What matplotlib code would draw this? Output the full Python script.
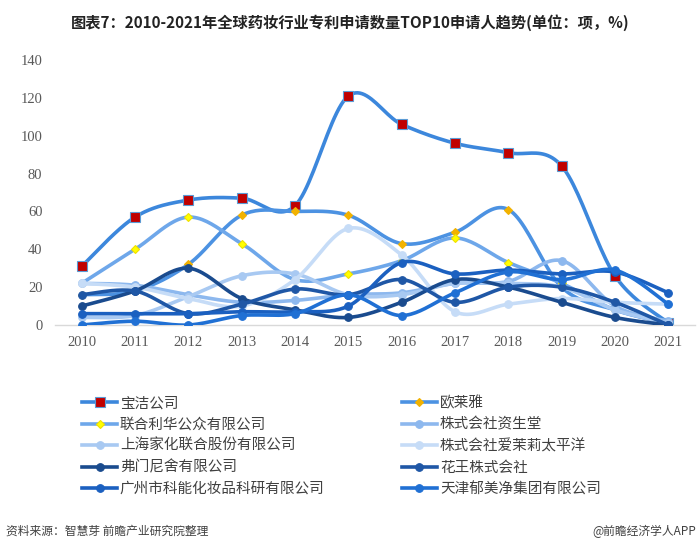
import numpy as np
import matplotlib
matplotlib.use("Agg")
import matplotlib.pyplot as plt
from matplotlib.lines import Line2D

plt.rcParams['font.family'] = ['Noto Sans CJK SC', 'DejaVu Sans']

years = list(range(2010, 2022))
names = ["宝洁公司", "欧莱雅", "联合利华公众有限公司", "株式会社资生堂",
         "上海家化联合股份有限公司", "株式会社爱茉莉太平洋", "弗门尼舍有限公司",
         "花王株式会社", "广州市科能化妆品科研有限公司", "天津郁美净集团有限公司"]

pg = [31, 57, 66, 67, 63, 121, 106, 96, 91, 84, 26, 1]
loreal = [16, 18, 32, 58, 60, 58, 43, 49, 61, 20, 8, 1]
unilever = [22, 40, 57, 43, 24, 27, 34, 46, 33, 22, 8, 1]
shiseido = [22, 21, 16, 12, 13, 16, 17, 22, 23, 34, 10, 2]
jahwa = [4, 5, 15, 26, 27, 16, 16, 22, 22, 20, 8, 1]
amore = [22, 20, 14, 10, 24, 51, 37, 7, 11, 14, 12, 11]
firmenich = [10, 18, 30, 14, 8, 4, 12, 24, 20, 12, 4, 0]
kao = [16, 18, 6, 11, 19, 16, 24, 12, 20, 20, 12, 0]
guangzhou = [6, 6, 6, 7, 7, 10, 33, 27, 29, 27, 28, 17]
tianjin = [0, 2, 0, 5, 6, 16, 5, 17, 28, 24, 29, 11]
yticks = [0, 20, 40, 60, 80, 100, 120, 140]

series = [pg, loreal, unilever, shiseido, jahwa, amore, firmenich, kao, guangzhou, tianjin]
line_colors = ["#3C87DC", "#4C92E2", "#6EA7EA", "#8DB8EE", "#A8C9F2", "#C6DCF7",
               "#1A4B8E", "#1F57A6", "#1B60C0", "#2070D4"]
markers = ["s", "D", "D", "o", "o", "o", "o", "o", "o", "o"]
mface = ["#C00000", "#F2B200", "#FFFF00"] + line_colors[3:]
medge = ["#5B9BD5", "#F2B200", "#F0E000"] + line_colors[3:]
msize = [6.5, 4.5, 4.5, 5.5, 5.5, 5.5, 5.5, 5.5, 5.5, 5.5]


def catmull(x, y, n=24):
    x = np.asarray(x, float)
    y = np.asarray(y, float)
    px = np.concatenate([[x[0]], x, [x[-1]]])
    py = np.concatenate([[y[0]], y, [y[-1]]])
    xs, ys = [], []
    t = np.linspace(0, 1, n)
    for i in range(1, len(px) - 2):
        for arr, out in ((px, xs), (py, ys)):
            p0, p1, p2, p3 = arr[i - 1], arr[i], arr[i + 1], arr[i + 2]
            out.append(0.5 * ((2 * p1) + (-p0 + p2) * t
                              + (2 * p0 - 5 * p1 + 4 * p2 - p3) * t ** 2
                              + (-p0 + 3 * p1 - 3 * p2 + p3) * t ** 3))
    return np.concatenate(xs), np.concatenate(ys)


fig = plt.figure(figsize=(7, 5.58), dpi=100)
ax = fig.add_axes([55 / 700, 1 - 325 / 558, 640 / 700, 265 / 558])

handles = []
for i, s in enumerate(series):
    sx, sy = catmull(years, s)
    ax.plot(sx, sy, color=line_colors[i], lw=2.6, solid_capstyle='round', zorder=2 + i)
    ax.plot(years, s, linestyle='none', marker=markers[i], ms=msize[i],
            mfc=mface[i], mec=medge[i], mew=0.8, zorder=2 + i)
    handles.append(Line2D([0], [0], color=line_colors[i], lw=2.6, marker=markers[i],
                          ms=msize[i], mfc=mface[i], mec=medge[i], mew=0.8))

ax.set_xlim(2009.5, 2021.5)
ax.set_ylim(0, 140)
ax.set_xticks(years)
ax.set_yticks(yticks)
for sp in ["top", "right", "left"]:
    ax.spines[sp].set_visible(False)
ax.spines["bottom"].set_color("#D9D9D9")
ax.spines["bottom"].set_linewidth(1.0)
ax.tick_params(axis='both', length=0, labelsize=10.5, labelcolor="#595959")
ax.tick_params(axis='y', pad=9)
ax.tick_params(axis='x', pad=8)
for lab in ax.get_xticklabels() + ax.get_yticklabels():
    lab.set_fontfamily(['Liberation Serif', 'DejaVu Serif'])

order = [0, 2, 4, 6, 8, 1, 3, 5, 7, 9]
leg = fig.legend([handles[k] for k in order], [names[k] for k in order],
                 loc='upper left', bbox_to_anchor=(82 / 700, 1 - 396 / 558),
                 ncol=2, frameon=False, fontsize=10.5, handlelength=2.4,
                 handletextpad=0.2, columnspacing=5.3, labelspacing=0.5,
                 borderpad=0, borderaxespad=0)
for t in leg.get_texts():
    t.set_color("#404040")

fig.text(0.5, 1 - 23 / 558, "图表7：2010-2021年全球药妆行业专利申请数量TOP10申请人趋势(单位：项，%)",
         ha='center', va='center', fontsize=11, fontweight='bold', color="#222222")
fig.text(6 / 700, 1 - 531 / 558, "资料来源：智慧芽 前瞻产业研究院整理",
         ha='left', va='center', fontsize=8.5, color="#404040")
fig.text(696 / 700, 1 - 531 / 558, "@前瞻经济学人APP",
         ha='right', va='center', fontsize=8.5, color="#404040")

fig.savefig("out.png", dpi=100)
